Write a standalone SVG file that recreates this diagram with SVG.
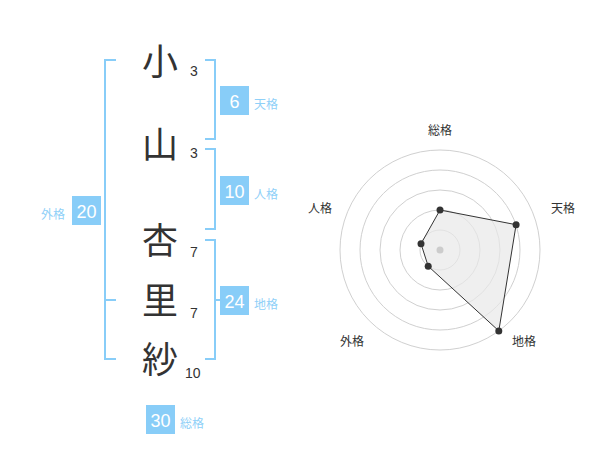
<svg xmlns="http://www.w3.org/2000/svg" width="600" height="470" viewBox="0 0 600 470">
<style>
.ch{font-family:"Noto Sans CJK JP","Noto Sans CJK SC",sans-serif;font-size:36px;fill:#333;text-anchor:middle}
.st{font-family:"Liberation Sans",Arial,sans-serif;font-size:14px;fill:#333}
.bx{fill:#88cdf8}
.bn{font-family:"Liberation Sans",Arial,sans-serif;font-size:18px;fill:#fff;text-anchor:middle}
.bl{font-family:"Noto Sans CJK JP","Noto Sans CJK SC",sans-serif;font-size:12px;fill:#8fd0f8}
.br{fill:none;stroke:#88cdf8;stroke-width:2}
.rl{font-family:"Noto Sans CJK JP","Noto Sans CJK SC",sans-serif;font-size:12px;fill:#333;text-anchor:middle}
.ring{fill:none;stroke:#d0d0d0;stroke-width:1}
</style>
<rect width="600" height="470" fill="#fff"/>
<g id="chars">
<g id="c1"><text class="ch" x="160" y="75">小</text><text class="st" x="190" y="76">3</text></g>
<g id="c2"><text class="ch" x="160" y="158">山</text><text class="st" x="190" y="158">3</text></g>
<g id="c3"><text class="ch" x="160" y="254">杏</text><text class="st" x="190" y="257">7</text></g>
<g id="c4"><text class="ch" x="160" y="314">里</text><text class="st" x="190" y="318">7</text></g>
<g id="c5"><text class="ch" x="160" y="373">紗</text><text class="st" x="185" y="378">10</text></g>
</g>
<g id="connectors">
<path class="br" d="M116,60 H105 V359 H116 M105,300 H116"/>
<path class="br" d="M205,60 H215 V139 H205"/>
<path class="br" d="M205,149 H215 V229 H205"/>
<path class="br" d="M205,240 H215 V359 H205 M215,300 H225"/>
</g>
<g id="tenkaku"><rect class="bx" x="220" y="86" width="29" height="29"/><text class="bn" x="234.5" y="107.5">6</text><text class="bl" x="254" y="109">天格</text></g>
<g id="jinkaku"><rect class="bx" x="220" y="176" width="29" height="29"/><text class="bn" x="234.5" y="197.5">10</text><text class="bl" x="254" y="199">人格</text></g>
<g id="gaikaku"><rect class="bx" x="72" y="196" width="29" height="29"/><text class="bn" x="86.5" y="217.5">20</text><text class="bl" x="41" y="219">外格</text></g>
<g id="chikaku"><rect class="bx" x="220" y="286" width="29" height="29"/><text class="bn" x="234.5" y="307.5">24</text><text class="bl" x="254" y="309">地格</text></g>
<g id="soukaku"><rect class="bx" x="146" y="405" width="29" height="29"/><text class="bn" x="160.5" y="426.5">30</text><text class="bl" x="180" y="428">総格</text></g>
<g id="radar">
<circle class="ring" cx="440" cy="250" r="20"/>
<circle class="ring" cx="440" cy="250" r="40"/>
<circle class="ring" cx="440" cy="250" r="60"/>
<circle class="ring" cx="440" cy="250" r="80"/>
<circle class="ring" cx="440" cy="250" r="100"/>
<polygon points="440,210 516.1,224.7 498.8,330.9 428.2,266.2 421,243.8" fill="#e8e8e8" fill-opacity="0.7" stroke="#333" stroke-width="1"/>
<circle cx="440" cy="250" r="3.5" fill="#ccc"/>
<g fill="#333">
<circle cx="440" cy="210" r="3.5"/>
<circle cx="516.1" cy="224.7" r="3.5"/>
<circle cx="498.8" cy="330.9" r="3.5"/>
<circle cx="428.2" cy="266.2" r="3.5"/>
<circle cx="421" cy="243.8" r="3.5"/>
</g>
<text class="rl" x="440" y="135">総格</text>
<text class="rl" x="563" y="213">天格</text>
<text class="rl" x="320" y="213">人格</text>
<text class="rl" x="352" y="346">外格</text>
<text class="rl" x="524" y="346">地格</text>
</g>
</svg>
